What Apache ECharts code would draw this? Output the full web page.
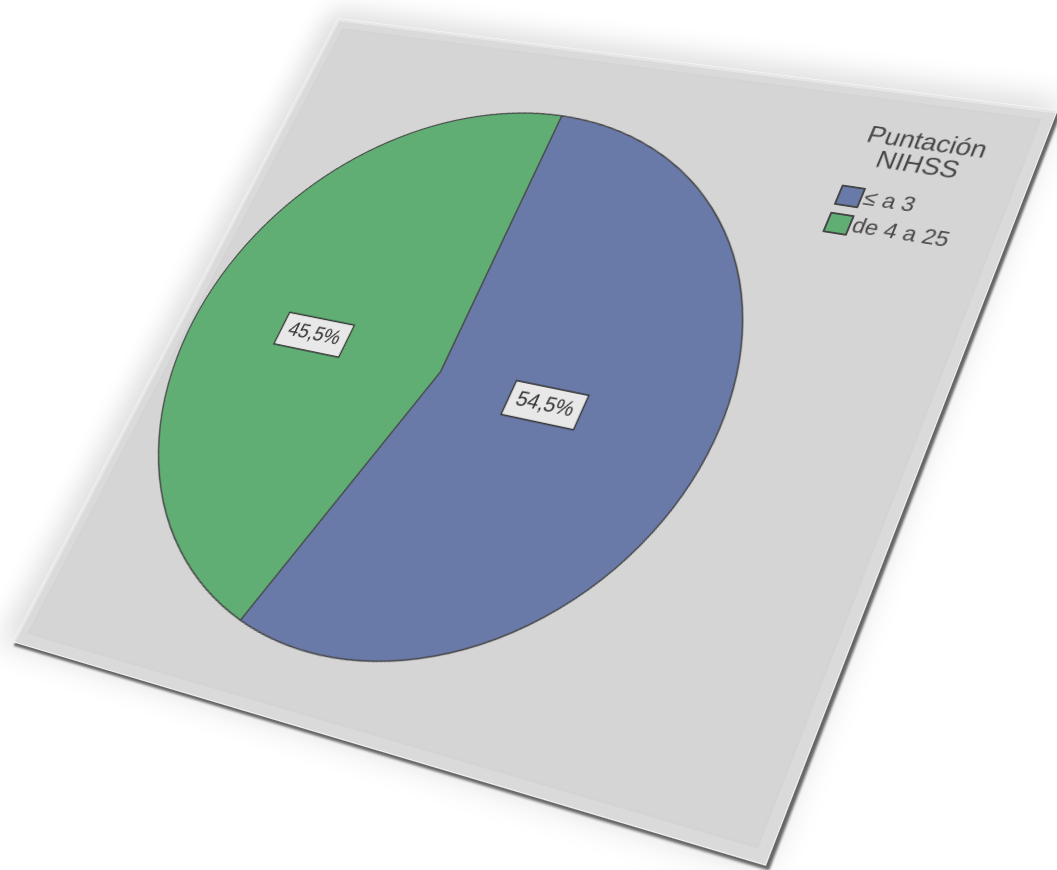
<!DOCTYPE html>
<html>
<head>
<meta charset="utf-8">
<title>Puntación NIHSS</title>
<script src="https://cdn.jsdelivr.net/npm/echarts@6/dist/echarts.min.js"></script>
<style>
  html, body { margin: 0; padding: 0; background: #ffffff; width: 1057px; height: 870px; overflow: hidden; }
  #panel {
    position: absolute; left: 0; top: 0;
    width: 820px; height: 760px;
    transform-origin: 0 0;
    background: #d5d5d5;
    box-shadow:
      inset 0 0 0 1px #f4f4f4,
      inset 2px 2px 0 2px #e6e6e6,
      inset 0 0 0 12px #dadada,
      inset 0 0 3px 13px #d2d2d2,
      4px 3px 2px rgba(55, 55, 55, 0.75),
      -8px -5px 28px 8px rgba(0, 0, 0, 0.12);
  }
  #chart { position: absolute; left: 0; top: 0; width: 820px; height: 760px; }
</style>
</head>
<body>
<div id="panel"><div id="chart"></div></div>
<script>
// NIHSS score groups and their share of patients (%)
const categories = ['≤ a 3', 'de 4 a 25'];
const percentages = [54.5, 45.5];
const sliceColors = ['#6a7aa8', '#60ae73'];
const legendTitle = 'Puntación\nNIHSS';

// Panel size and the four corners of the tilted card on the page (TL, TR, BR, BL)
const PANEL_W = 820, PANEL_H = 760;
const panelCorners = [[338, 18], [1058, 110], [766, 866], [12, 642]];

// Projective map from the unit square onto the card's quadrilateral
function squareToQuad(q) {
  const [x0, y0] = q[0], [x1, y1] = q[1], [x2, y2] = q[2], [x3, y3] = q[3];
  const dx1 = x1 - x2, dx2 = x3 - x2, dx3 = x0 - x1 + x2 - x3;
  const dy1 = y1 - y2, dy2 = y3 - y2, dy3 = y0 - y1 + y2 - y3;
  const den = dx1 * dy2 - dx2 * dy1;
  const g = (dx3 * dy2 - dx2 * dy3) / den;
  const h = (dx1 * dy3 - dx3 * dy1) / den;
  return {
    a: x1 - x0 + g * x1, b: x3 - x0 + h * x3, c: x0,
    d: y1 - y0 + g * y1, e: y3 - y0 + h * y3, f: y0,
    g: g, h: h
  };
}
const m = squareToQuad(panelCorners);
const W = PANEL_W, H = PANEL_H;
document.getElementById('panel').style.transform =
  'matrix3d(' + [m.a / W, m.d / W, 0, m.g / W,
                 m.b / H, m.e / H, 0, m.h / H,
                 0, 0, 1, 0,
                 m.c, m.f, 0, 1].join(',') + ')';

const chart = echarts.init(document.getElementById('chart'), null, { renderer: 'canvas', devicePixelRatio: 2 });

const fontFamily = '"Liberation Sans", Arial, sans-serif';

chart.setOption({
  animation: false,
  backgroundColor: 'transparent',
  color: sliceColors,
  title: {
    text: legendTitle,
    left: 703,
    top: 37,
    textAlign: 'center',
    textStyle: { fontFamily: fontFamily, fontSize: 27, fontWeight: 'normal', color: '#484848', lineHeight: 26 }
  },
  legend: {
    orient: 'vertical',
    left: 638,
    top: 108,
    itemWidth: 23,
    itemHeight: 21,
    itemGap: 8,
    icon: 'rect',
    data: categories,
    textStyle: { fontFamily: fontFamily, fontSize: 23, color: '#484848', padding: [0, 0, 0, -2] }
  },
  series: [{
    type: 'pie',
    center: [320, 386],
    radius: 304,
    startAngle: 90,
    clockwise: true,
    silent: true,
    itemStyle: { borderColor: '#454545', borderWidth: 1.5 },
    label: {
      show: true,
      position: 'inside',
      formatter: function (p) { return p.value.toFixed(1).replace('.', ',') + '%'; },
      fontFamily: fontFamily,
      fontSize: 22,
      color: '#333333',
      backgroundColor: '#e8e8e8',
      borderColor: '#333333',
      borderWidth: 1.5,
      padding: [7, 8]
    },
    labelLayout: function (params) {
      if (params.dataIndex === 0) return { dx: -30, dy: -10 };
      return { dx: -4, dy: 10 };
    },
    labelLine: { show: false },
    data: categories.map(function (name, i) { return { name: name, value: percentages[i] }; })
  }]
});
</script>
</body>
</html>
